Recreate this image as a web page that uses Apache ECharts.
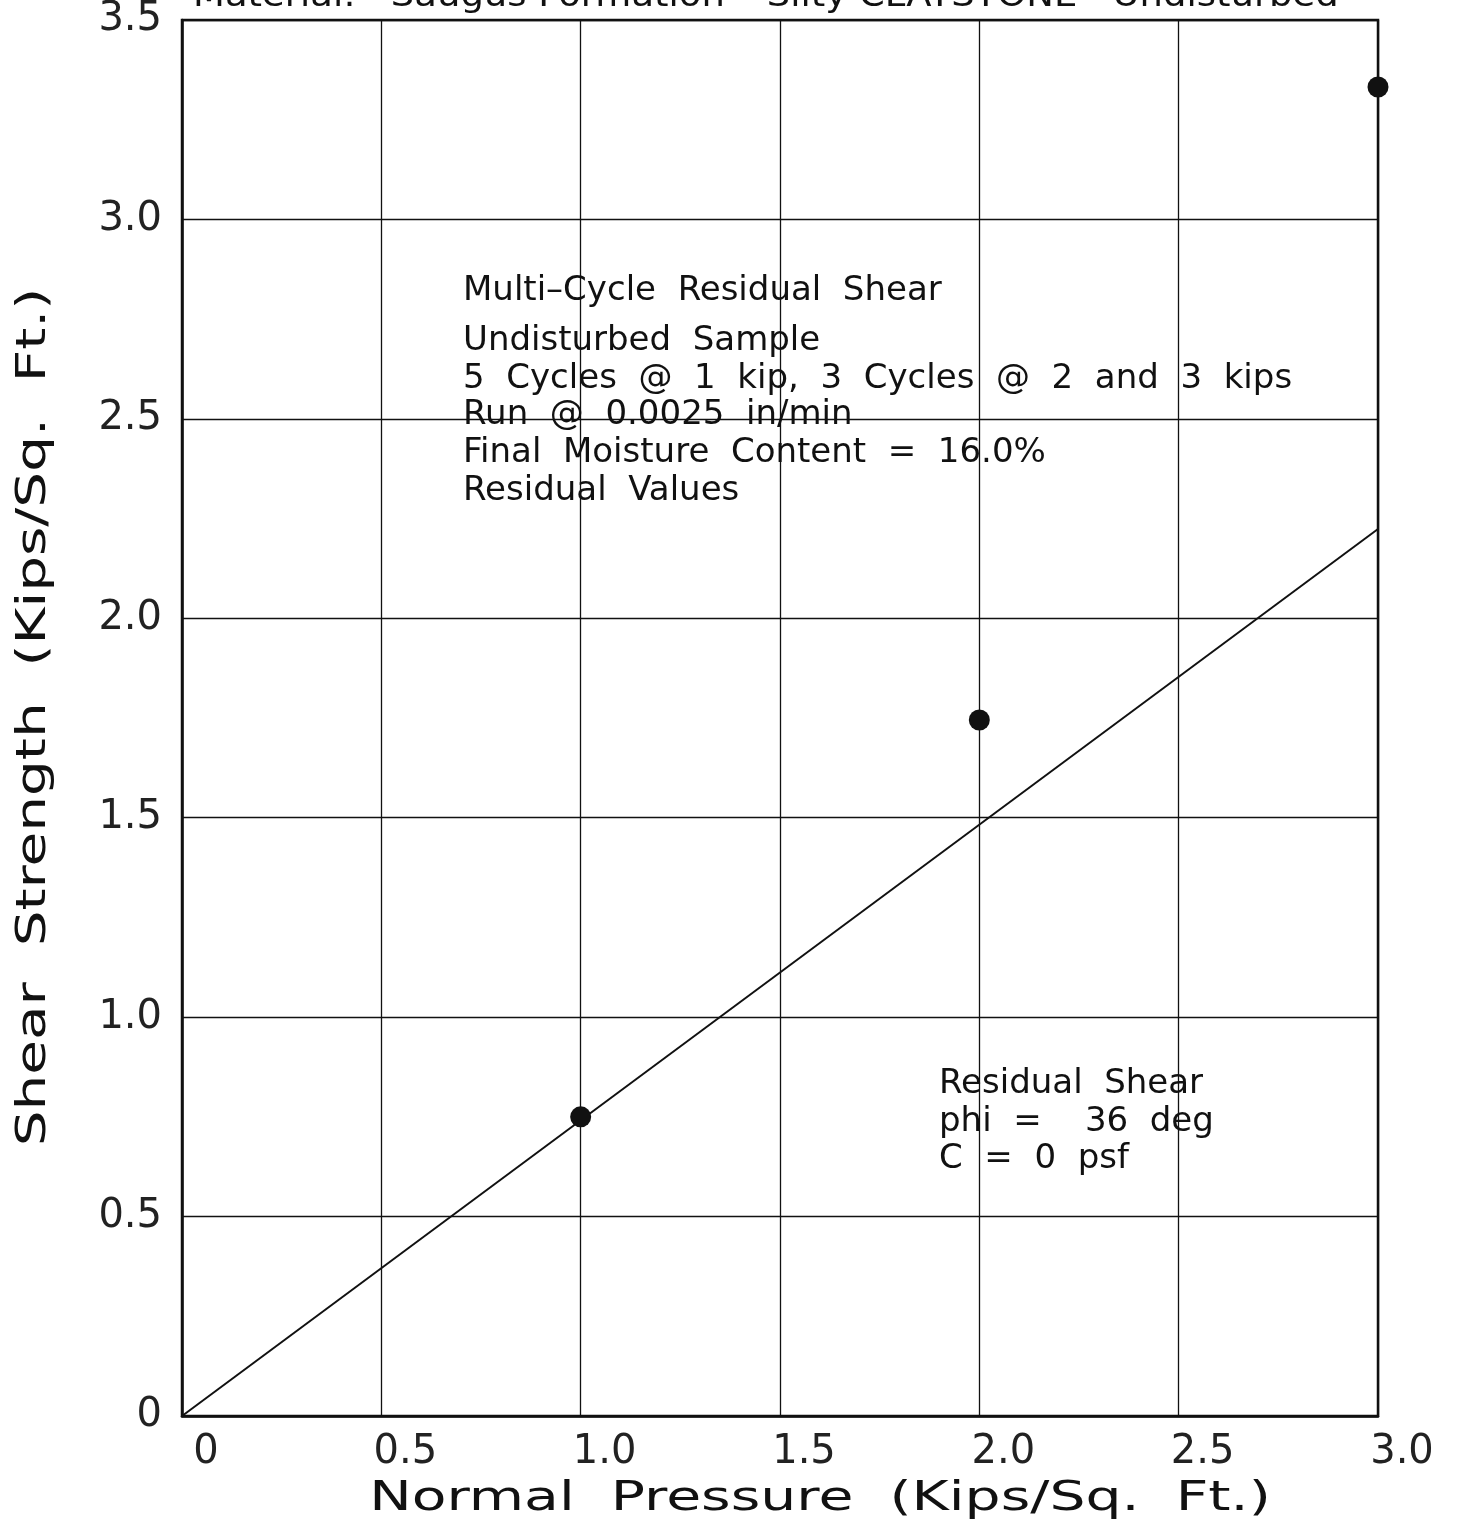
<!DOCTYPE html>
<html>
<head>
<meta charset="utf-8">
<script src="https://cdn.jsdelivr.net/npm/echarts@6/dist/echarts.min.js"></script>
<style>
html,body{margin:0;padding:0;background:#fff;}
#chart{width:1458px;height:1524px;}
</style>
</head>
<body>
<div id="chart"></div>
<script>
// Data
const pointsX = [1.0, 2.0, 3.0];
const pointsY = [0.750, 1.745, 3.332];
const fitX = [0, 3.0];
const fitY = [0, 2.224];
const xTicks = [0, 0.5, 1.0, 1.5, 2.0, 2.5, 3.0];
const yTicks = [0, 0.5, 1.0, 1.5, 2.0, 2.5, 3.0, 3.5];
const titleText = 'Material:   Saugus Formation \u2013 Silty CLAYSTONE   Undisturbed';
const xName = 'Normal  Pressure  (Kips/Sq.  Ft.)';
const yName = 'Shear  Strength  (Kips/Sq.  Ft.)';
const noteLines = ['Multi\u2013Cycle  Residual  Shear', 'Undisturbed  Sample', '5  Cycles  @  1  kip,  3  Cycles  @  2  and  3  kips', 'Run  @  0.0025  in/min', 'Final  Moisture  Content  =  16.0%', 'Residual  Values'];
const resultLines = ['Residual  Shear', 'phi  =    36  deg', 'C  =  0  psf'];

const FONT = 'DejaVu Sans';
const fmt = v => (v === 0 ? '0' : v.toFixed(1));

const chart = echarts.init(document.getElementById('chart'), null, {renderer: 'canvas'});

const g = [];
const noteTops = [274, 324, 362, 398, 436, 474];
noteLines.forEach((t, i) => g.push({
  type: 'text', x: 463, y: noteTops[i], scaleX: 1.0,
  style: {text: t, font: '34px "DejaVu Sans"', fill: '#111'}
}));
const resTops = [1067, 1105, 1142];
resultLines.forEach((t, i) => g.push({
  type: 'text', x: 939, y: resTops[i],
  style: {text: t, font: '34px "DejaVu Sans"', fill: '#111'}
}));
g.push({
  type: 'text', x: 193, y: -19, scaleX: 1.12,
  style: {text: titleText, font: '33px "DejaVu Sans"', fill: '#111'}
});
g.push({
  type: 'text', x: 820, y: 1500, scaleX: 1.42,
  style: {text: xName, font: '40px "DejaVu Sans"', fill: '#111', textAlign: 'center', textVerticalAlign: 'middle'}
});
g.push({
  type: 'text', x: 35, y: 717, rotation: Math.PI / 2, scaleX: 1.41,
  style: {text: yName, font: '40px "DejaVu Sans"', fill: '#111', textAlign: 'center', textVerticalAlign: 'middle'}
});

chart.setOption({
  animation: false,
  backgroundColor: '#fff',
  grid: {left: 182, right: 80, top: 20, bottom: 108, show: true, borderColor: '#111', borderWidth: 2.5, backgroundColor: 'transparent'},
  xAxis: {
    type: 'value', min: 0, max: 3.0, interval: 0.5,
    axisLine: {show: true, lineStyle: {color: '#111', width: 2.5}},
    axisTick: {show: false},
    splitLine: {show: true, lineStyle: {color: '#111', width: 1.3}},
    axisLabel: {formatter: fmt, fontFamily: FONT, fontSize: 40, color: '#222', margin: 17, padding: [0, 0, 0, 48]}
  },
  yAxis: {
    type: 'value', min: 0, max: 3.5, interval: 0.5,
    axisLine: {show: true, lineStyle: {color: '#111', width: 2.5}},
    axisTick: {show: false},
    splitLine: {show: true, lineStyle: {color: '#111', width: 1.3}},
    axisLabel: {formatter: fmt, fontFamily: FONT, fontSize: 40, color: '#222', margin: 20, padding: [10, 0, 0, 0]}
  },
  series: [
    {
      type: 'line', data: fitX.map((x, i) => [x, fitY[i]]),
      symbol: 'none', lineStyle: {color: '#111', width: 2}, z: 3
    },
    {
      type: 'scatter', data: pointsX.map((x, i) => [x, pointsY[i]]),
      symbol: 'circle', symbolSize: 21, itemStyle: {color: '#111', opacity: 1}, z: 4
    }
  ],
  graphic: g
});
</script>
</body>
</html>
